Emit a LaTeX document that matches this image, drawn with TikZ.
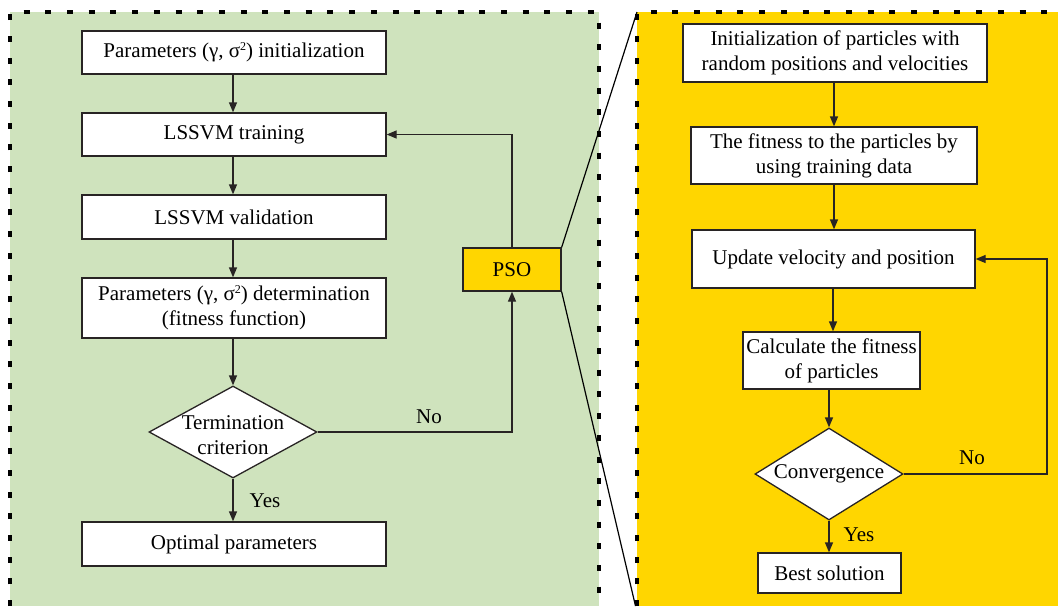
\documentclass[tikz,border=0pt]{standalone}
\usepackage{fontspec}
\setmainfont{Liberation Serif}
\usetikzlibrary{arrows.meta,shapes.geometric}
\definecolor{panelgreen}{RGB}{207,227,189}
\definecolor{panelyellow}{RGB}{255,214,0}
\definecolor{linegray}{RGB}{40,36,36}
\newcommand{\sqsup}{\raisebox{7pt}{\fontsize{12}{12}\selectfont 2}}
\tikzset{
  box/.style={draw=linegray, line width=1.3pt, fill=white, inner sep=0pt, align=center,
    font=\fontsize{21}{25}\selectfont},
  dia/.style={draw=linegray, line width=1.3pt, fill=white, diamond, inner sep=0pt},
  lbl/.style={inner sep=0pt, font=\fontsize{21}{25}\selectfont},
  arr/.style={draw=linegray, line width=1.3pt, -{Triangle[length=10pt,width=8pt]}},
  conn/.style={draw=linegray, line width=1.3pt},
  zoomline/.style={draw=black, line width=1.2pt},
  dashborder/.style={draw=black, line width=3.5pt, dash pattern=on 6pt off 15.7pt}
}
\begin{document}
\begin{tikzpicture}[x=1pt,y=-1pt]
\useasboundingbox (0,0) rectangle (1058,606);
% panels
\fill[white] (0,0) rectangle (1058,606);
\fill[panelgreen] (10,12) rectangle (599,606);
\fill[panelyellow] (637,12) rectangle (1058,606);
\draw[dashborder] (10,606) -- (10,12) -- (599,12) -- (599,606);
\draw[dashborder] (637,606) -- (637,12) -- (1058,12);
% left flow
\node[box, minimum width=304pt, minimum height=43pt] (b1) at (234,52.5) {Parameters (γ, σ\sqsup) initialization};
\node[box, minimum width=304pt, minimum height=43pt] (b2) at (234,134.5) {LSSVM training};
\node[box, minimum width=304pt, minimum height=44pt] (b3) at (234,217) {LSSVM validation};
\node[box, minimum width=304pt, minimum height=60pt] (b4) at (234,308) {Parameters (γ, σ\sqsup) determination\\(fitness function)};
\node[dia, minimum width=168pt, minimum height=92pt] (d1) at (233,432) {};
\node[lbl, align=center] (d1t) at (233,435) {Termination\\criterion};
\node[box, minimum width=304pt, minimum height=44pt] (b5) at (234,544) {Optimal parameters};
\node[box, fill=panelyellow, minimum width=98pt, minimum height=43pt] (pso) at (512,269.5) {PSO};
\draw[arr] (b1.south -| d1.north) -- (b2.north -| d1.north);
\draw[arr] (b2.south -| d1.north) -- (b3.north -| d1.north);
\draw[arr] (b3.south -| d1.north) -- (b4.north -| d1.north);
\draw[arr] (b4.south -| d1.north) -- (d1.north);
\draw[arr] (d1.south) -- (b5.north -| d1.south);
\draw[arr] (d1.east) -| (pso.south);
\draw[arr] (pso.north) |- (b2.east);
\node[lbl] (no1) at (429,417) {No};
\node[lbl] (yes1) at (265,501) {Yes};
% zoom lines
\coordinate (zt) at (637,12);
\coordinate (zb) at (635.5,606);
\draw[zoomline] (pso.north east) -- (zt);
\draw[zoomline] (pso.south east) -- (zb);
% right flow
\node[box, minimum width=304pt, minimum height=58pt] (r1) at (835,53) {Initialization of particles with\\random positions and velocities};
\node[box, minimum width=286pt, minimum height=57pt] (r2) at (834,155.5) {The fitness to the particles by\\using training data};
\node[box, minimum width=283pt, minimum height=58pt] (r3) at (833.5,259) {Update velocity and position};
\node[box, minimum width=177pt, minimum height=57pt] (r4) at (831.5,360.5) {Calculate the fitness\\of particles};
\node[dia, minimum width=148pt, minimum height=92pt] (d2) at (829,474) {};
\node[lbl] (d2t) at (829,474) {Convergence};
\node[box, minimum width=143pt, minimum height=40pt] (r5) at (829.5,573) {Best solution};
\draw[arr] (r1.south -| 834,0) -- (r2.north -| 834,0);
\draw[arr] (r2.south -| 834,0) -- (r3.north -| 834,0);
\draw[arr] (r3.south -| 833,0) -- (r4.north -| 833,0);
\draw[arr] (r4.south -| d2.north) -- (d2.north);
\draw[arr] (d2.south) -- (r5.north -| d2.south);
\coordinate (fbr) at (1047,474);
\draw[arr] (d2.east) -- (fbr) |- (r3.east);
\node[lbl] (no2) at (972,458) {No};
\node[lbl] (yes2) at (859,535) {Yes};
\end{tikzpicture}
\end{document}
